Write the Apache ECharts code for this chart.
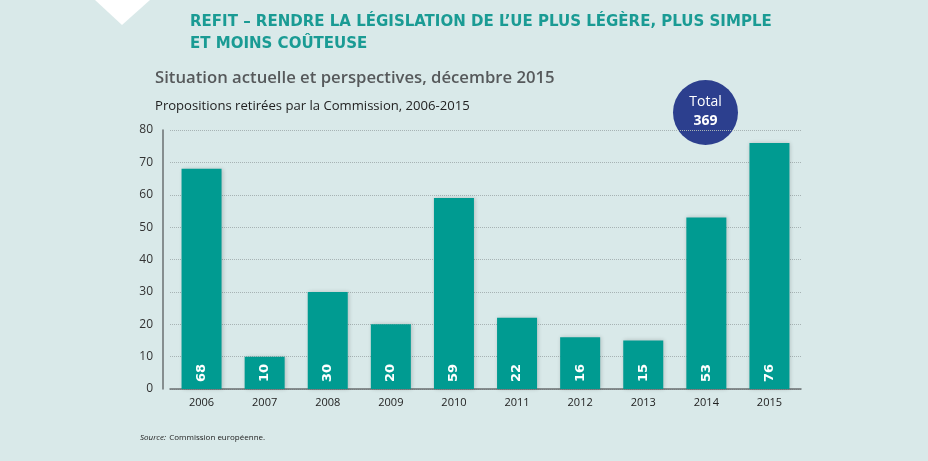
<!DOCTYPE html>
<html><head><meta charset="utf-8">
<script src="https://cdn.jsdelivr.net/npm/echarts@6/dist/echarts.min.js"></script>
<style>html,body{margin:0;padding:0;background:#d9e9e9;}#c{width:928px;height:461px;}</style>
</head><body><div id="c"></div>
<script>
const categories = ['2006','2007','2008','2009','2010','2011','2012','2013','2014','2015'];
const withdrawn = [68,10,30,20,59,22,16,15,53,76];
const yTicks = [0,10,20,30,40,50,60,70,80];
const total = withdrawn.reduce((a,b)=>a+b,0);

const chart = echarts.init(document.getElementById('c'));
chart.setOption({
  backgroundColor: '#d9e9e9',
  animation: false,
  grid: {left: 170, right: 127, top: 130, bottom: 72},
  xAxis: {
    type: 'category', data: categories,
    axisLine: {lineStyle: {color: '#6a6f70', width: 1.5}},
    axisTick: {show: false},
    axisLabel: {color: '#222', fontSize: 11, fontFamily: 'Open Sans', margin: 8}
  },
  yAxis: {
    type: 'value', min: 0, max: 80, interval: 10, offset: 7,
    axisLine: {show: true, lineStyle: {color: '#6a6f70', width: 1.5}},
    axisTick: {show: false},
    axisLabel: {color: '#333', fontSize: 12, fontFamily: 'Open Sans', margin: 10,
      formatter: v => yTicks.includes(v) ? String(v) : ''},
    splitLine: {lineStyle: {color: '#a7b3b4', type: [1,1], width: 1}}
  },
  series: [{
    type: 'bar', data: withdrawn, barWidth: 40,
    itemStyle: {color: '#009b91', shadowColor: 'rgba(0,0,0,0.18)', shadowBlur: 4, shadowOffsetX: 1, shadowOffsetY: 0},
    label: {show: true, position: 'insideBottom', rotate: 90, distance: 7,
      align: 'left', verticalAlign: 'middle',
      color: '#fff', fontSize: 13, fontWeight: 'bold', fontFamily: 'DejaVu Sans'}
  }],
  graphic: [
    {type: 'polygon', shape: {points: [[95,0],[150,0],[122,25]]}, style: {fill: '#ffffff'}},
    {type: 'text', left: 190, top: 11, style: {text: 'REFIT – RENDRE LA LÉGISLATION DE L’UE PLUS LÉGÈRE, PLUS SIMPLE\nET MOINS COÛTEUSE',
      fill: '#1a9b94', font: 'bold 16.7px "DejaVu Sans Condensed", "Liberation Sans Narrow", sans-serif', lineHeight: 21.5}},
    {type: 'text', left: 155, top: 70, style: {text: 'Situation actuelle et perspectives, décembre 2015',
      fill: '#56595b', font: '600 16.7px "Open Sans", sans-serif'}},
    {type: 'text', left: 155, top: 100, style: {text: 'Propositions retirées par la Commission, 2006-2015',
      fill: '#222', font: '13.1px "Open Sans", sans-serif'}},
    {type: 'circle', shape: {cx: 705.5, cy: 112.5, r: 32.5}, style: {fill: '#2c3f8e'}},
    {type: 'text', x: 705.5, y: 102, style: {text: 'Total', fill: '#fff', font: '14px "Open Sans", sans-serif', align: 'center', verticalAlign: 'middle'}},
    {type: 'text', x: 705.5, y: 121, style: {text: String(total), fill: '#fff', font: 'bold 14px "Open Sans", sans-serif', align: 'center', verticalAlign: 'middle'}},
    {type: 'text', left: 140, top: 432, style: {rich: {i: {fontStyle: 'italic', fontSize: 8, fill: '#222', fontFamily: 'Open Sans'}, r: {fontSize: 8, fill: '#222', fontFamily: 'Open Sans'}},
      text: '{i|Source:} {r|Commission européenne.}'}}
  ]
});
</script></body></html>
